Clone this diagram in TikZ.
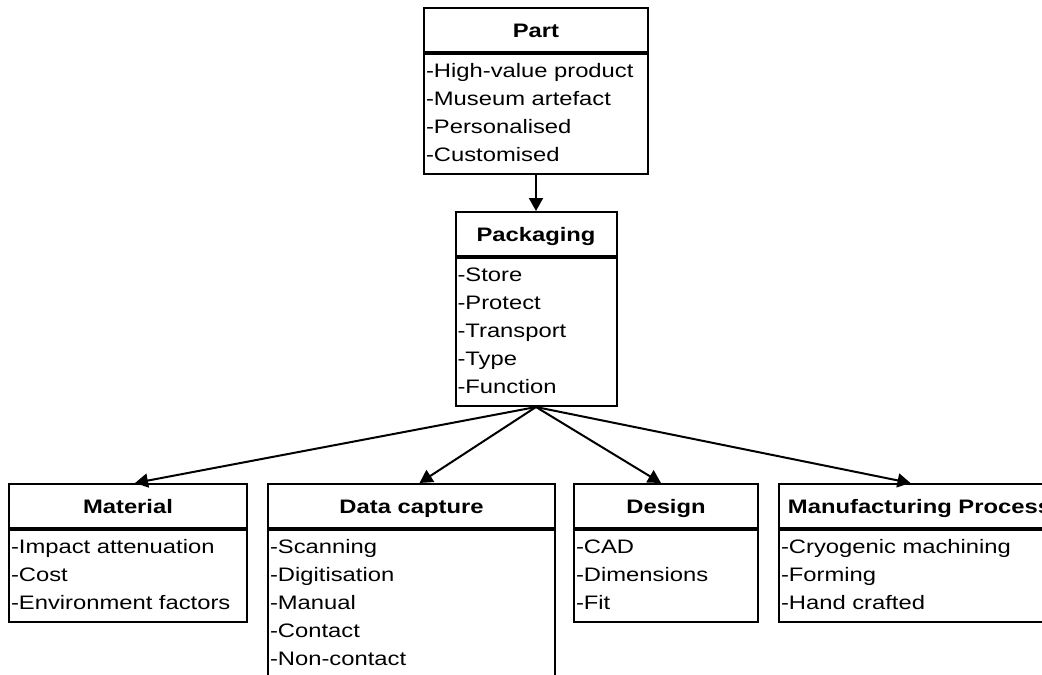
\documentclass[tikz,border=0pt]{standalone}
\usepackage{fontspec}
\setmainfont{Liberation Sans}[FakeStretch=1.22]
\usetikzlibrary{arrows.meta,positioning}

\begin{document}
\begin{tikzpicture}[>={Triangle[length=13pt,width=14pt]},line width=2pt,
 every node/.style={font=\fontsize{19.5}{28}\selectfont},
 head/.style={draw,minimum height=44pt,text height=14pt,text depth=0pt,
  font=\fontsize{19.5}{28}\selectfont\bfseries},
 body/.style={draw,align=left,inner xsep=2pt,inner ysep=4pt,
  execute at begin node=\strut,execute at end node=\strut}]
 \path[use as bounding box] (0,0) rectangle (1042pt,-675pt);

 \node[head,minimum width=224pt] (part) at (536pt,-30pt) {Part};
 \node[body,text width=220pt,below=0pt of part] (partb)
  {-High-value product\\-Museum artefact\\-Personalised\\-Customised};
 \node[head,minimum width=161pt,below=36pt of partb] (pack) {Packaging};
 \node[body,text width=157pt,below=0pt of pack] (packb)
  {-Store\\-Protect\\-Transport\\-Type\\-Function};

 \node[head,minimum width=238pt] (mat) at (128pt,-506pt) {Material};
 \node[body,text width=234pt,below=0pt of mat] (matb)
  {-Impact attenuation\\-Cost\\-Environment factors};
 \node[head,minimum width=287pt,right=19pt of mat] (data) {Data capture};
 \node[body,text width=283pt,below=0pt of data] (datab)
  {-Scanning\\-Digitisation\\-Manual\\-Contact\\-Non-contact};
 \node[head,minimum width=184pt,right=17pt of data] (des) {Design};
 \node[body,text width=180pt,below=0pt of des] (desb)
  {-CAD\\-Dimensions\\-Fit};
 \node[head,minimum width=281pt,right=19pt of des] (manu) {Manufacturing Process};
 \node[body,text width=277pt,below=0pt of manu] (manub)
  {-Cryogenic machining\\-Forming\\-Hand crafted};

 \draw[->] (partb) -- (pack);
 \path[->] (packb.south)
  edge ([xshift=7pt]mat.north)
  edge ([xshift=8pt]data.north)
  edge ([xshift=-5pt]des.north)
  edge ([xshift=-9pt]manu.north);
\end{tikzpicture}
\end{document}
